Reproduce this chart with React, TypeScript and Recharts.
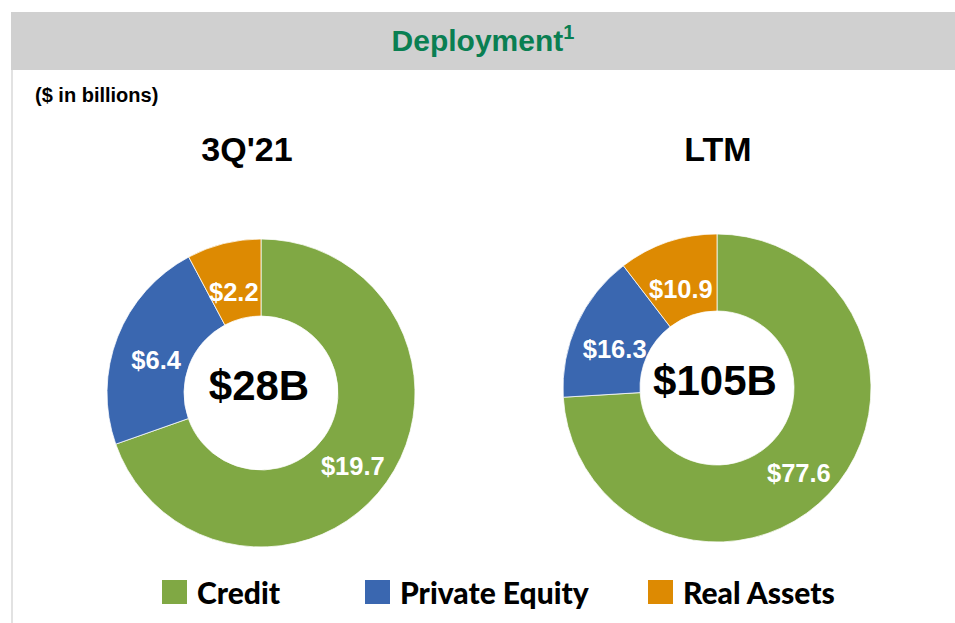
import { Pie, PieChart, Cell } from 'recharts'

const categories = ['Credit', 'Private Equity', 'Real Assets']
const colors = ['#80A844', '#3A67B0', '#DD8A02']
const quarterValues = [19.7, 6.4, 2.2]
const ltmValues = [77.6, 16.3, 10.9]
const periodTitles = ["3Q'21", 'LTM']
const totals = ['$28B', '$105B']

const quarterData = categories.map((name, i) => ({ name, value: quarterValues[i] }))
const ltmData = categories.map((name, i) => ({ name, value: ltmValues[i] }))

const FONT = '"Liberation Sans", Arial, sans-serif'
const RAD = Math.PI / 180

const sliceLabel = (props: any) => {
	const { cx, cy, midAngle, innerRadius, outerRadius, value } = props
	const r = (innerRadius + outerRadius) / 2 - 3
	const x = cx + r * Math.cos(-midAngle * RAD)
	const y = cy + r * Math.sin(-midAngle * RAD)
	return (
		<text x={x} y={y + 17} textAnchor="middle" fill="#fff" fontFamily={FONT} fontWeight={700} fontSize={25.5}>
			${value.toFixed(1)}
		</text>
	)
}

export default function App() {
	const pies = [
		{ data: quarterData, cx: 261, cy: 393, titleShift: -14 },
		{ data: ltmData, cx: 717, cy: 388, titleShift: 1 },
	]
	return (
		<div style={{ position: 'absolute', left: 0, top: 0, width: 955, height: 623, background: '#fff', fontFamily: FONT, overflow: 'hidden' }}>
			<div style={{ position: 'absolute', left: 11, top: 12, width: 944, height: 58, background: '#D0D0D0', textAlign: 'center', lineHeight: '58px', color: '#0A7F52', fontWeight: 700, fontSize: 30 }}>
				Deployment<sup style={{ fontSize: 20, verticalAlign: 0, position: 'relative', top: -12 }}>1</sup>
			</div>
			<div style={{ position: 'absolute', left: 11, top: 70, width: 2, height: 553, background: '#E2E2E2' }} />
			<div style={{ position: 'absolute', left: 35, top: 84, fontWeight: 700, fontSize: 20 }}>($ in billions)</div>
			{periodTitles.map((t, i) => (
				<div key={t} style={{ position: 'absolute', left: pies[i].cx + pies[i].titleShift - 100, top: 130, width: 200, textAlign: 'center', fontWeight: 700, fontSize: 34 }}>
					{t}
				</div>
			))}
			<div style={{ position: 'absolute', left: 0, top: 0 }}>
				<PieChart width={955} height={623} margin={{ top: 0, right: 0, bottom: 0, left: 0 }}>
					{pies.map((p, k) => (
						<Pie
							key={k}
							data={p.data}
							dataKey="value"
							nameKey="name"
							cx={p.cx}
							cy={p.cy}
							innerRadius={77}
							outerRadius={154}
							startAngle={90}
							endAngle={-270}
							stroke="#ffffff"
							strokeWidth={0.75}
							label={sliceLabel}
							labelLine={false}
							isAnimationActive={false}
						>
							{p.data.map((d, i) => (
								<Cell key={d.name} fill={colors[i]} />
							))}
						</Pie>
					))}
					{pies.map((p, k) => (
						<text key={'c' + k} x={p.cx - 2} y={p.cy + 7} textAnchor="middle" fill="#000" fontFamily={FONT} fontWeight={700} fontSize={42}>
							{totals[k]}
						</text>
					))}
				</PieChart>
			</div>
			{categories.map((c, i) => (
				<div key={c} style={{ position: 'absolute', left: [162, 365, 648][i], top: 576, height: 32, display: 'flex', alignItems: 'center' }}>
					<span style={{ display: 'inline-block', width: 25, height: 24, background: colors[i], marginRight: 10 }} />
					<span style={{ fontFamily: 'Lato, sans-serif', fontWeight: 900, fontSize: 30 }}>{c}</span>
				</div>
			))}
		</div>
	)
}
